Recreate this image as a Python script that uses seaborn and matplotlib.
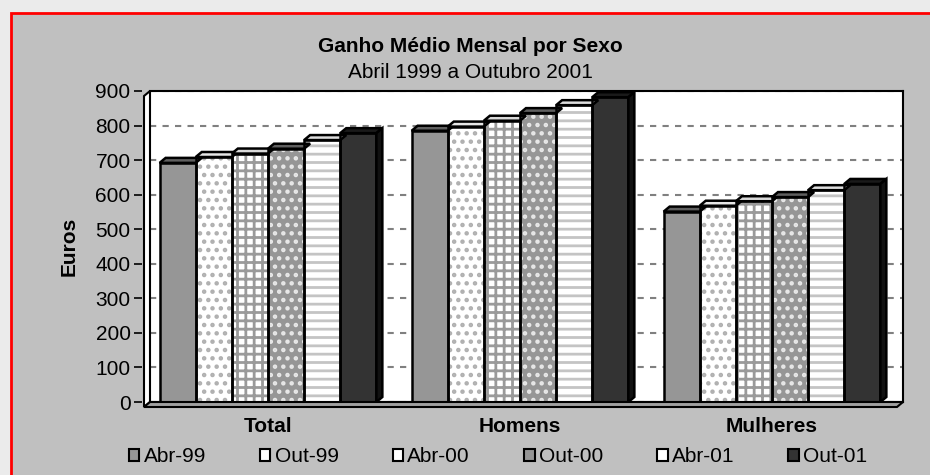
import matplotlib
matplotlib.use("Agg")
import matplotlib.pyplot as plt
import matplotlib.patches as mpatches
import seaborn as sns
import pandas as pd

categories = ["Total", "Homens", "Mulheres"]
periods = ["Abr-99", "Out-99", "Abr-00", "Out-00", "Abr-01", "Out-01"]
val_total = [692, 709, 719, 733, 758, 778]
val_homens = [785, 797, 814, 836, 859, 882]
val_mulheres = [551, 568, 581, 593, 613, 631]
y_ticks = [0, 100, 200, 300, 400, 500, 600, 700, 800, 900]

rows = []
for cat, vals in zip(categories, [val_total, val_homens, val_mulheres]):
    for p, v in zip(periods, vals):
        rows.append({"cat": cat, "period": p, "value": v})
df = pd.DataFrame(rows)

sns.set_theme(style="white")
plt.rcParams["font.family"] = ["Liberation Sans", "DejaVu Sans"]
plt.rcParams["text.color"] = "black"
plt.rcParams["hatch.linewidth"] = 2.0

W, H = 930, 475
fig = plt.figure(figsize=(W / 100, H / 100), dpi=100)
fig.patch.set_facecolor("#EBEBEB")
bg = mpatches.Rectangle((11 / W, -0.05), 1.1, (H - 13) / H + 0.05,
                        transform=fig.transFigure, facecolor="#C0C0C0",
                        edgecolor="#FF0000", linewidth=2, zorder=-10)
fig.patches.append(bg)

ax_l, ax_r, ax_t, ax_b = 150, 903, 91, 402
ax = fig.add_axes([ax_l / W, (H - ax_b) / H, (ax_r - ax_l) / W, (ax_b - ax_t) / H])
ax.set_zorder(1)
ax.set_facecolor("white")

face = ["#969696", "white", "white", "#969696", "white", "#333333"]
hatch = [None, "..", "++", "..", "--", None]
hcol = ["#969696", "#B0B0B0", "#9A9A9A", "#E8E8E8", "#C4C4C4", "#333333"]
topc = ["#606060", "#E6E6E6", "#D8D8D8", "#606060", "#DDDDDD", "#1A1A1A"]

sns.barplot(data=df, x="cat", y="value", hue="period", order=categories,
            hue_order=periods, width=0.86, gap=0, ax=ax, legend=False,
            linewidth=0, saturation=1, zorder=3)

x_lo = -(268 - ax_l) / 252
x_hi = 2 + (ax_r - 772) / 252
ax.set_xlim(x_lo, x_hi)
ax.set_ylim(0, 900)
ax.set_yticks(y_ticks)
ax.yaxis.grid(True, color="#808080", linestyle=(0, (3, 3)), linewidth=1.5, zorder=1)
ax.set_axisbelow(True)

px_x = (x_hi - x_lo) / (ax_r - ax_l)
px_y = 900 / (ax_b - ax_t)
dx, dy = 6 * px_x, 5 * px_y

for i, cont in enumerate(ax.containers):
    for j, bar in enumerate(cont):
        bar.set_facecolor(face[i])
        bar.set_edgecolor(hcol[i])
        if hatch[i]:
            bar.set_hatch(hatch[i])
        x0, w, h = bar.get_x(), bar.get_width(), bar.get_height()
        ax.add_patch(mpatches.Rectangle((x0, 0), w, h, fill=False, edgecolor="black",
                                        linewidth=1.8, zorder=4))
        top = mpatches.Polygon([(x0, h), (x0 + w, h), (x0 + w + dx, h + dy), (x0 + dx, h + dy)],
                               closed=True, facecolor=topc[i], edgecolor="black",
                               linewidth=1.8, zorder=4)
        ax.add_patch(top)
        if i == len(periods) - 1:
            side = mpatches.Polygon([(x0 + w, 0), (x0 + w + dx, dy), (x0 + w + dx, h + dy), (x0 + w, h)],
                                    closed=True, facecolor="#111111", edgecolor="black",
                                    linewidth=1.8, zorder=4)
            ax.add_patch(side)

# 3D left wall and floor (axes-fraction coordinates)
wa = 6 / (ax_r - ax_l)
ha = 5 / (ax_b - ax_t)
wall = mpatches.Polygon([(0, 0), (0, 1), (-wa, 1 - ha), (-wa, -ha)], closed=True,
                        transform=ax.transAxes, facecolor="white", edgecolor="black",
                        linewidth=1.5, clip_on=False, zorder=5)
floor = mpatches.Polygon([(0, 0), (1, 0), (1 - wa, -ha), (-wa, -ha)], closed=True,
                         transform=ax.transAxes, facecolor="#A0A0A0", edgecolor="black",
                         linewidth=1.5, clip_on=False, zorder=5)
ax.add_patch(wall)
ax.add_patch(floor)

for s in ax.spines.values():
    s.set_color("black")
    s.set_linewidth(1.5)
ax.spines["left"].set_position(("outward", 6))
ax.spines["left"].set_visible(False)

ax.tick_params(axis="y", which="both", left=True, length=6, width=1.2, color="black",
               labelsize=15, pad=2, labelcolor="black")
ax.tick_params(axis="x", length=0, labelsize=15, pad=11, labelcolor="black")
for lab in ax.get_xticklabels():
    lab.set_fontweight("bold")
ax.set_xlabel("")
ax.set_ylabel("Euros", fontsize=15, fontweight="bold", labelpad=12, color="black")

fig.text(470 / W, (H - 47) / H, "Ganho Médio Mensal por Sexo", ha="center", va="center",
         fontsize=15, fontweight="bold", color="black")
fig.text(470 / W, (H - 72) / H, "Abril 1999 a Outubro 2001", ha="center", va="center",
         fontsize=15, color="black")

handles = []
for i, p in enumerate(periods):
    handles.append(mpatches.Patch(facecolor=face[i], edgecolor="black", linewidth=1.5,
                                  label=p))
leg = fig.legend(handles=handles, loc="center", bbox_to_anchor=(498 / W, (H - 457) / H), ncol=6,
                 frameon=False, fontsize=15, handlelength=0.5, handleheight=0.5,
                 handletextpad=0.2, columnspacing=2.6)
for t in leg.get_texts():
    t.set_color("black")

fig.savefig("out.png", dpi=100, facecolor=fig.get_facecolor())
